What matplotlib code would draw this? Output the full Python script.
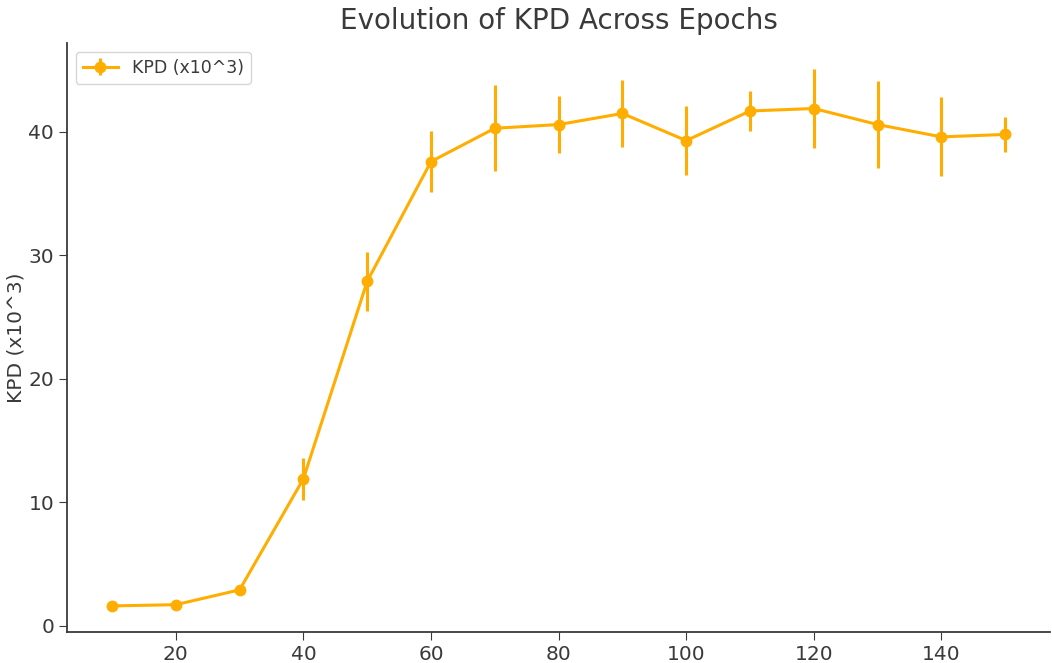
import matplotlib
matplotlib.use('agg')
import matplotlib.pyplot as plt

plt.rcParams['font.family'] = ['DejaVu Sans']

# epochs and KPD values (x10^3)
epochs = [10, 20, 30, 40, 50, 60, 70, 80, 90, 100, 110, 120, 130, 140, 150]
kpd = [1.6, 1.7, 2.9, 11.9, 27.9, 37.6, 40.3, 40.6, 41.5, 39.3, 41.7, 41.9, 40.6, 39.6, 39.8]
kpd_err = [0.2, 0.2, 0.3, 1.7, 2.4, 2.5, 3.5, 2.3, 2.7, 2.8, 1.6, 3.2, 3.5, 3.2, 1.4]

fig = plt.figure(figsize=(10.52, 6.63), dpi=100)
ax = fig.add_axes([0.064, 0.047, 0.934, 0.888])

ax.errorbar(epochs, kpd, yerr=kpd_err, color='#FFAD00', marker='o', markersize=7.5,
            linewidth=2.2, elinewidth=2.2, label='KPD (x10^3)')

ax.set_title('Evolution of KPD Across Epochs', fontsize=20, color='#3a3a3a', pad=10)
ax.set_ylabel('KPD (x10^3)', fontsize=14.5, color='#3a3a3a', labelpad=2)
ax.set_xticks([20, 40, 60, 80, 100, 120, 140])
ax.set_yticks([0, 10, 20, 30, 40])
ax.set_ylim(-0.5, 47.2)
ax.tick_params(labelsize=14.5, colors='#3a3a3a', length=6)

for side in ['top', 'right']:
	ax.spines[side].set_visible(False)
for side in ['left', 'bottom']:
	ax.spines[side].set_color('#3a3a3a')
	ax.spines[side].set_linewidth(1.3)

leg = ax.legend(loc='upper left', fontsize=12.5)
for t in leg.get_texts():
	t.set_color('#3a3a3a')

fig.savefig('out.png', dpi=100)
